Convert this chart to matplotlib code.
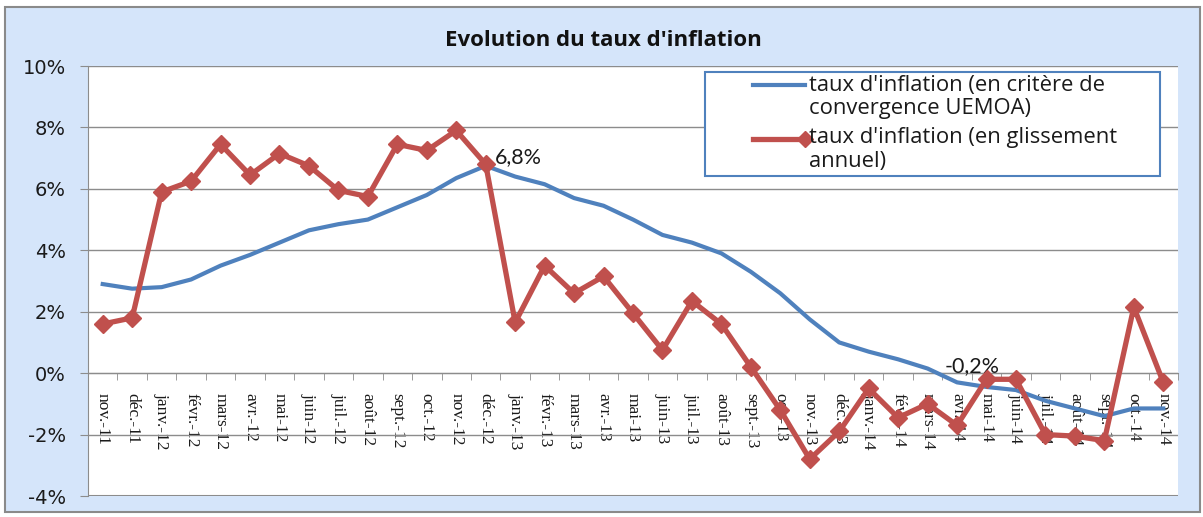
import numpy as np
import matplotlib.pyplot as plt
from matplotlib.patches import Rectangle
from matplotlib.lines import Line2D

# months, nov-11 .. nov-14
months = ["nov.-11", "déc.-11",
          "janv.-12", "févr.-12", "mars-12", "avr.-12", "mai-12", "juin-12",
          "juil.-12", "août-12", "sept.-12", "oct.-12", "nov.-12", "déc.-12",
          "janv.-13", "févr.-13", "mars-13", "avr.-13", "mai-13", "juin-13",
          "juil.-13", "août-13", "sept.-13", "oct.-13", "nov.-13", "déc.-13",
          "janv.-14", "févr.-14", "mars-14", "avr.-14", "mai-14", "juin-14",
          "juil.-14", "août-14", "sept.-14", "oct.-14", "nov.-14"]

# inflation, convergence criterion (12-month average), in %
critere = [2.9, 2.75, 2.8, 3.05, 3.5, 3.85, 4.25, 4.65, 4.85, 5.0, 5.4, 5.8,
           6.35, 6.75, 6.4, 6.15, 5.7, 5.45, 5.0, 4.5, 4.25, 3.9, 3.3, 2.6,
           1.75, 1.0, 0.7, 0.45, 0.15, -0.3, -0.45, -0.55, -0.9, -1.15, -1.4,
           -1.15, -1.15]

# inflation, year-on-year, in %
glissement = [1.6, 1.8, 5.9, 6.25, 7.45, 6.45, 7.15, 6.75, 5.95, 5.75, 7.45,
              7.25, 7.9, 6.8, 1.65, 3.5, 2.6, 3.15, 1.95, 0.75, 2.35, 1.6, 0.2,
              -1.2, -2.8, -1.9, -0.5, -1.45, -1.0, -1.7, -0.2, -0.2, -2.0,
              -2.05, -2.2, 2.15, -0.3]

yticks = [-4, -2, 0, 2, 4, 6, 8, 10]

label_crit = ["taux d'inflation (en critère de", "convergence UEMOA)"]
label_gliss = ["taux d'inflation (en glissement", "annuel)"]

blue = '#4F81BD'
red = '#C0504D'
bg = '#D5E5FA'
gridgray = '#8C8C8C'
txt = '#1A1A1A'

W, H = 1203, 517
fig = plt.figure(figsize=(W / 100, H / 100), dpi=100)
fig.patch.set_facecolor('white')

def fx(px):
    return px / W

def fy(py):
    return 1 - py / H

# outer chart area (light blue with gray border)
fig.patches.append(Rectangle((fx(5), fy(512)), fx(1195), 505 / H, transform=fig.transFigure,
                             facecolor=bg, edgecolor='#8A8A8A', linewidth=1.5, zorder=-10))

ax = fig.add_axes([fx(88), fy(496), fx(1178 - 88), (496 - 66) / H])
ax.set_facecolor('white')

x = np.arange(len(months))
ax.plot(x, critere, color=blue, linewidth=3.0, solid_joinstyle='round', zorder=3)
ax.plot(x, glissement, color=red, linewidth=3.8, marker='D', markersize=9.5, zorder=4)

ax.set_xlim(-0.5, len(months) - 0.5)
ax.set_ylim(-4, 10)

# horizontal grid
ax.set_yticks(yticks)
ax.set_yticklabels([f"{v}%" for v in yticks], fontsize=14, color=txt)
ax.yaxis.grid(True, color=gridgray, linewidth=1)
ax.set_axisbelow(True)
ax.tick_params(axis='y', length=6, color=gridgray, pad=10)

# category axis crossing at 0
ax.spines['bottom'].set_position(('data', 0))
ax.spines['bottom'].set_color(gridgray)
ax.spines['left'].set_color(gridgray)
ax.spines['top'].set_visible(False)
ax.spines['right'].set_visible(False)
ax.set_xticks(x)
ax.set_xticklabels(months, rotation=270, fontsize=12.5, family='Liberation Serif', color=txt)
ax.set_xticks(np.arange(-0.5, len(months), 1), minor=True)
ax.tick_params(axis='x', which='major', length=0, pad=14)
ax.tick_params(axis='x', which='minor', length=5, color=gridgray)

# bottom edge of plot area
ax.axhline(-4, color=gridgray, linewidth=1.5, zorder=1)

# data labels
ax.text(13.3, 6.7, "6,8%", fontsize=15.5, family='Lato', ha='left', va='bottom', color=txt)
ax.text(29.5, -0.1, "-0,2%", fontsize=15.5, family='Lato', ha='center', va='bottom', color=txt)

fig.text(fx(603), fy(40), "Evolution du taux d'inflation", fontsize=16,
         fontweight='bold', family='Open Sans', ha='center', va='center', color='#111111')

# legend (Excel style: handle next to first line of each label)
fig.patches.append(Rectangle((fx(705), fy(176)), fx(1160 - 705), (176 - 72) / H,
                             transform=fig.transFigure, facecolor='white',
                             edgecolor=blue, linewidth=1.5, zorder=5))
fig.lines.append(Line2D([fx(753), fx(805)], [fy(85), fy(85)], transform=fig.transFigure,
                        color=blue, linewidth=3.0, zorder=6))
fig.lines.append(Line2D([fx(753), fx(805)], [fy(139), fy(139)], transform=fig.transFigure,
                        color=red, linewidth=3.8, zorder=6))
fig.lines.append(Line2D([fx(805)], [fy(139)], transform=fig.transFigure, color=red,
                        marker='D', markersize=8, zorder=6))
for ypx, s in zip([85, 109, 138, 162], label_crit + label_gliss):
    fig.text(fx(809), fy(ypx), s, fontsize=15.8, family='Open Sans', ha='left',
             va='center', color=txt, zorder=7)

fig.savefig("out.png", dpi=100)
